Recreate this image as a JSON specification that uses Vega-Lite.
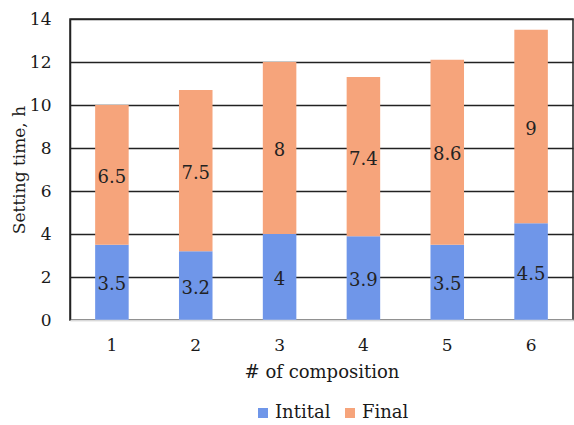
{
  "$schema": "https://vega.github.io/schema/vega-lite/v6.json",
  "width": 503,
  "height": 301,
  "autosize": {"type": "none"},
  "padding": {"left": 70, "top": 19, "right": 1, "bottom": 105},
  "background": "white",
  "config": {
    "font": "DejaVu Serif",
    "view": {"stroke": "#222", "strokeWidth": 1.5},
    "axis": {"labelFont": "DejaVu Serif", "titleFont": "DejaVu Serif", "labelColor": "#1a1a1a", "titleColor": "#1a1a1a"},
    "legend": {"labelFont": "DejaVu Serif"},
    "text": {"font": "DejaVu Serif"}
  },
  "data": {
    "values": [
      {"composition": "1", "type": "Intital", "value": 3.5},
      {"composition": "1", "type": "Final", "value": 6.5},
      {"composition": "2", "type": "Intital", "value": 3.2},
      {"composition": "2", "type": "Final", "value": 7.5},
      {"composition": "3", "type": "Intital", "value": 4},
      {"composition": "3", "type": "Final", "value": 8},
      {"composition": "4", "type": "Intital", "value": 3.9},
      {"composition": "4", "type": "Final", "value": 7.4},
      {"composition": "5", "type": "Intital", "value": 3.5},
      {"composition": "5", "type": "Final", "value": 8.6},
      {"composition": "6", "type": "Intital", "value": 4.5},
      {"composition": "6", "type": "Final", "value": 9}
    ]
  },
  "transform": [
    {"stack": "value", "groupby": ["composition"], "sort": [{"field": "type", "order": "descending"}], "as": ["v0", "v1"]},
    {"calculate": "(datum.v0 + datum.v1) / 2", "as": "mid"}
  ],
  "encoding": {
    "x": {
      "field": "composition", "type": "ordinal",
      "scale": {"paddingInner": 0.6, "paddingOuter": 0.3},
      "axis": {"labelAngle": 0, "ticks": false, "labelPadding": 17, "labelFontSize": 17, "title": "# of composition", "titleFontSize": 18, "titleFontWeight": "normal", "titlePadding": 10, "domainColor": "#d9d9d9", "domainWidth": 1.5, "zindex": 1}
    }
  },
  "layer": [
    {
      "mark": {"type": "bar"},
      "encoding": {
        "y": {
          "field": "v0", "type": "quantitative",
          "scale": {"domain": [0, 14]},
          "axis": {"values": [0, 2, 4, 6, 8, 10, 12, 14], "ticks": false, "labelPadding": 19, "labelFontSize": 17, "title": "Setting time, h", "titleFontSize": 17, "titleFontWeight": "normal", "titlePadding": 1, "domainColor": "#222", "domainWidth": 1.5, "grid": true, "gridColor": {"condition": {"test": "datum.value === 0", "value": "#d9d9d9"}, "value": "#222"}, "gridWidth": 1.5}
        },
        "y2": {"field": "v1"},
        "color": {
          "field": "type", "type": "nominal",
          "scale": {"domain": ["Intital", "Final"], "range": ["#6f96e9", "#f6a47b"]},
          "legend": {"orient": "none", "legendX": 184, "legendY": 385, "direction": "horizontal", "title": null, "symbolType": "square", "symbolSize": 100, "symbolStrokeWidth": 0, "labelFontSize": 18, "labelColor": "#1a1a1a", "labelOffset": 3, "columnPadding": 10}
        }
      }
    },
    {
      "mark": {"type": "text", "font": "DejaVu Serif", "fontSize": 18, "color": "#222", "dy": 3},
      "encoding": {
        "y": {"field": "mid", "type": "quantitative"},
        "text": {"field": "value", "type": "quantitative"}
      }
    }
  ]
}
